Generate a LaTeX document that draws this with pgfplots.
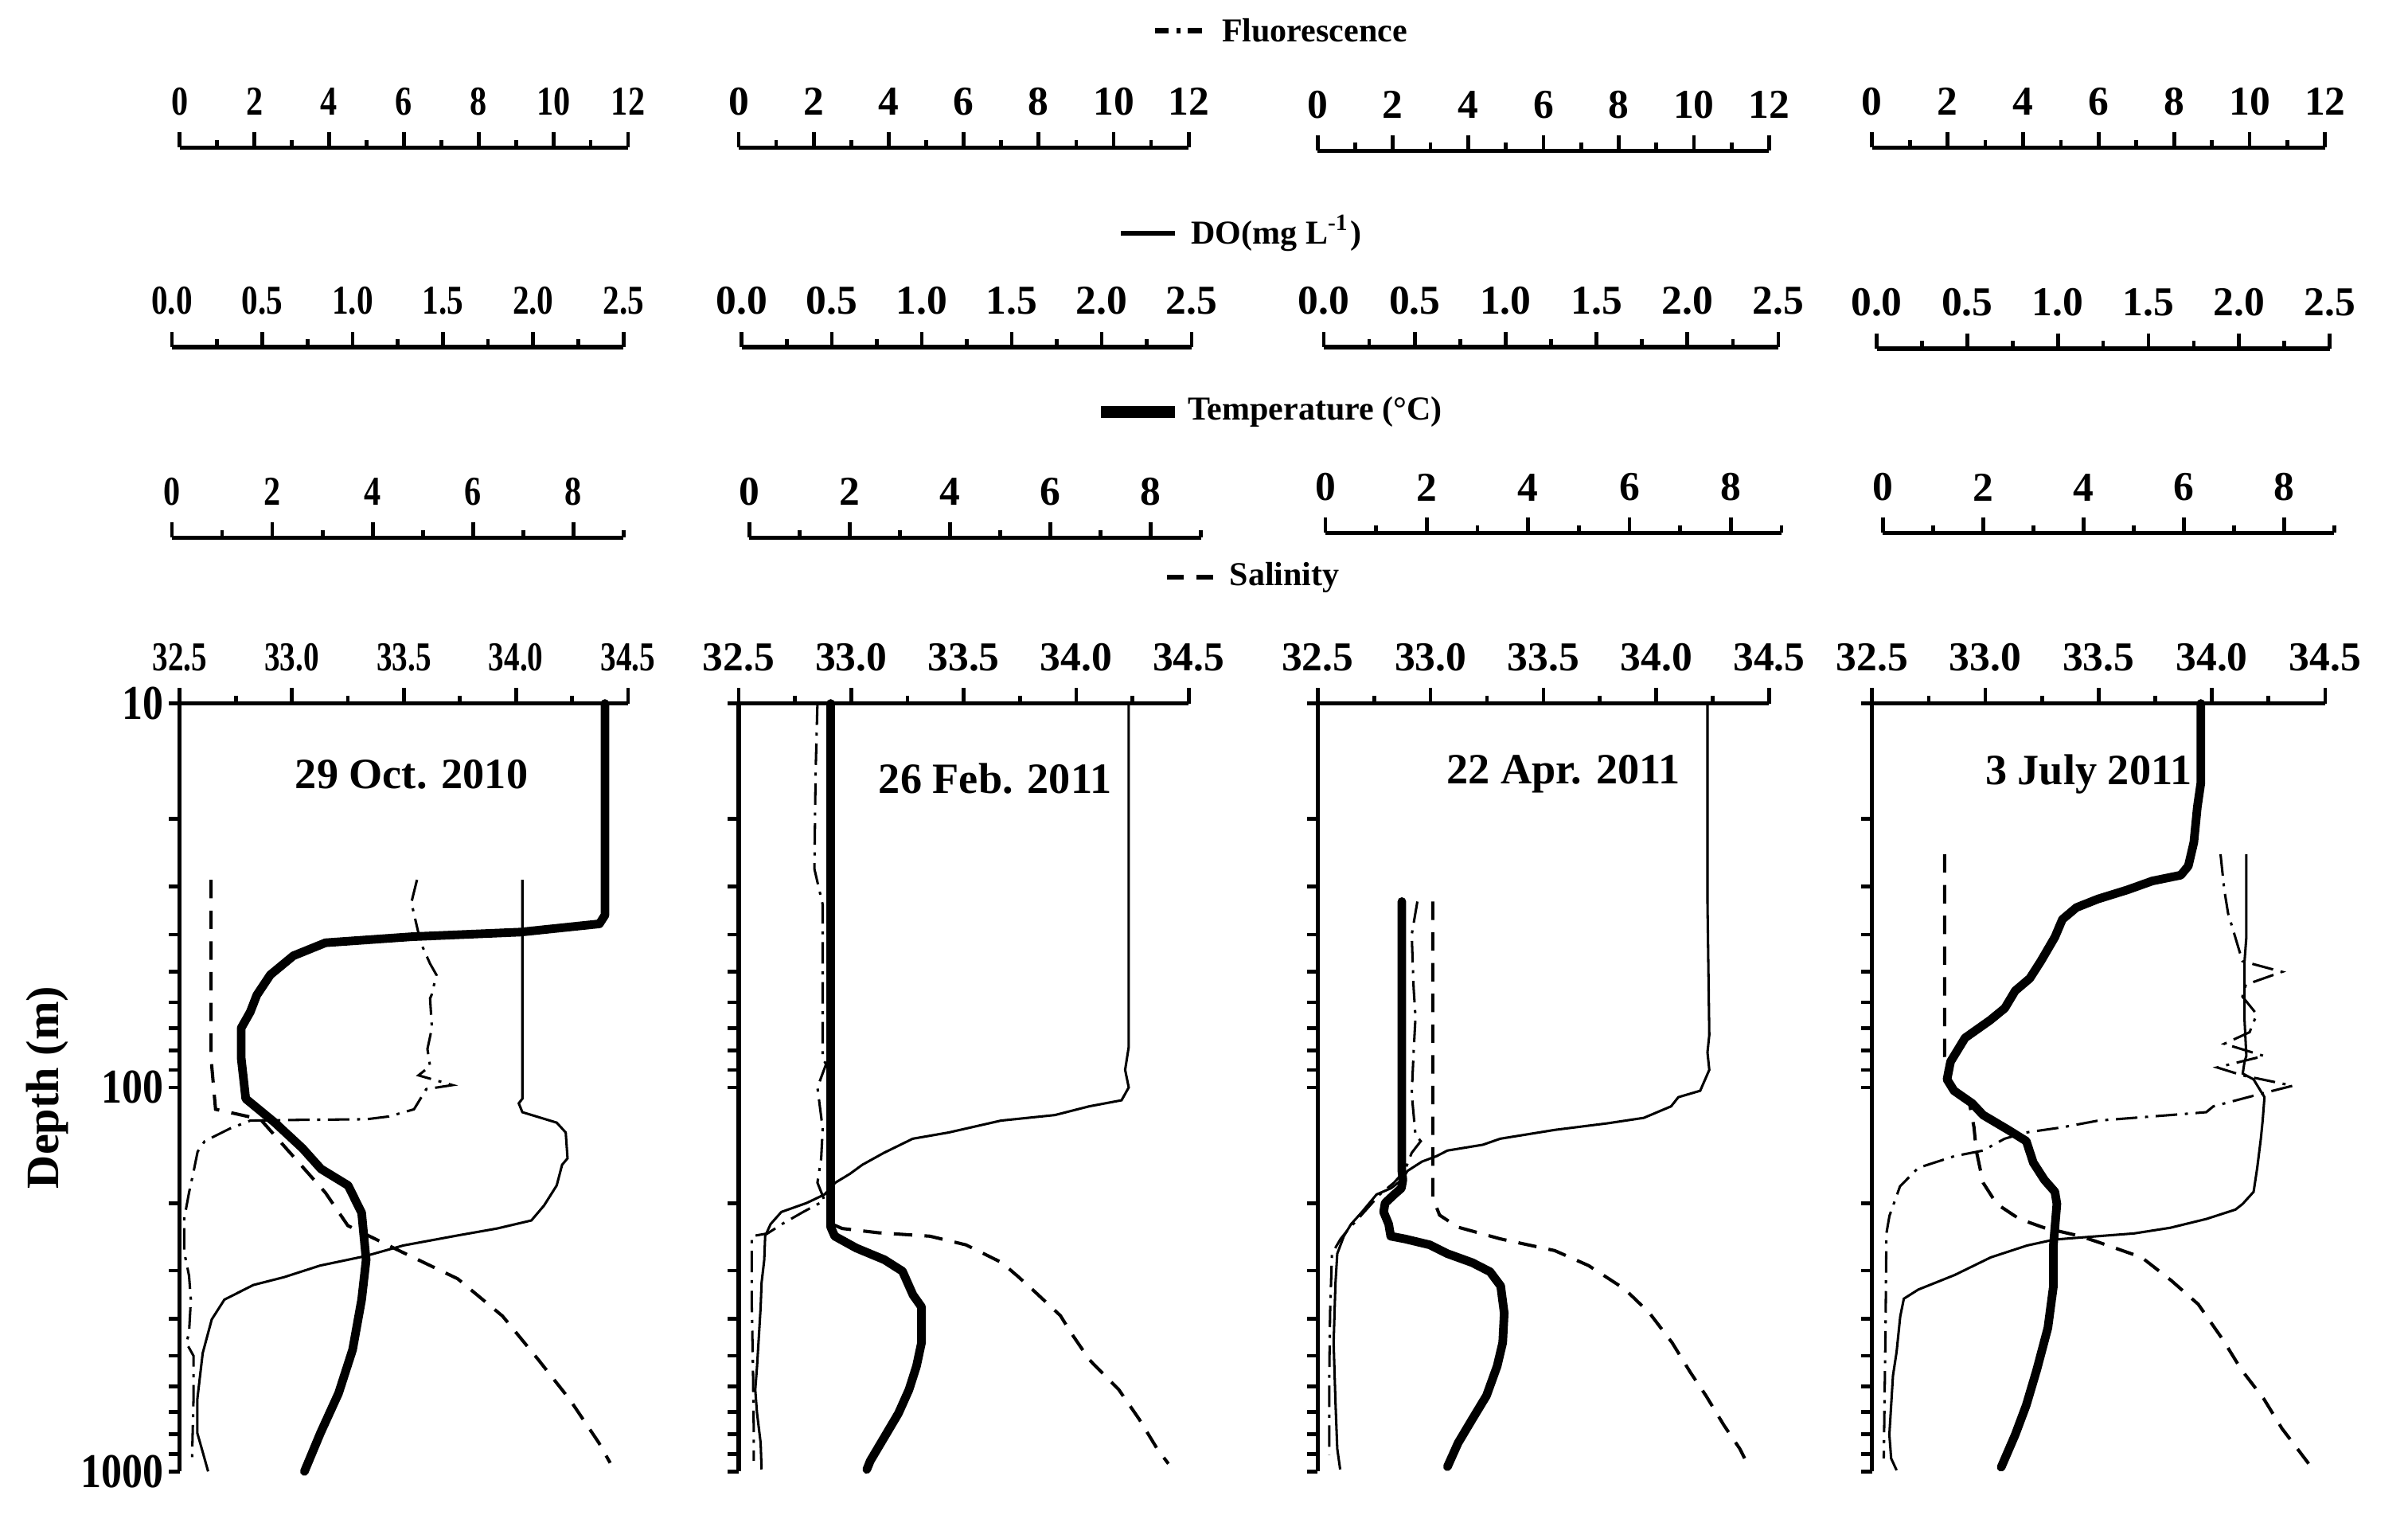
\documentclass[border=0pt]{standalone}
\usepackage{fontspec}
\setmainfont{Liberation Serif}
\usepackage{pgfplots}
\pgfplotsset{compat=1.18}
\newcommand\tf{\bfseries\fontsize{7.6}{8}\selectfont}
\newcommand\lf{\bfseries\fontsize{6.2}{7}\selectfont}
\newcommand\df{\bfseries\fontsize{8}{9}\selectfont}
\tikzset{
  fl/.style={black, line width=0.45pt, dash pattern=on 1.4mm off 0.5mm on 0.2mm off 0.5mm},
  doline/.style={black, line width=0.45pt},
  te/.style={black, line width=1.6pt, line join=round, line cap=round},
  sa/.style={black, line width=0.6pt, dash pattern=on 1.2mm off 0.8mm},
}
\pgfplotsset{
  scaleax/.style={scale only axis, height=4mm, ymin=0, ymax=1, anchor=north west,
    axis y line=none, axis x line*=top, axis line style={-, line width=0.75pt},
    tick align=outside, major tick length=1.0mm, minor tick length=0.5mm,
    tick style={black, line width=0.7pt}, xticklabel style={font=\tf, inner sep=1.5pt, yshift=0.5mm}},
  flax/.style={xmin=0, xmax=12, xtick={0,2,4,6,8,10,12}, minor xtick={1,3,5,7,9,11}, xticklabels={0,2,4,6,8,10,12}},
  doax/.style={xmin=0, xmax=2.5, xtick={0,0.5,1,1.5,2,2.5}, minor xtick={0.25,0.75,1.25,1.75,2.25}, xticklabels={0.0,0.5,1.0,1.5,2.0,2.5}},
  teax/.style={xmin=0, xmax=9, xtick={0,2,4,6,8}, minor xtick={1,3,5,7,9}, xticklabels={0,2,4,6,8}},
  saax/.style={xmin=32.5, xmax=34.5, xtick={32.5,33,33.5,34,34.5}, minor xtick={32.75,33.25,33.75,34.25}, xticklabels={32.5,33.0,33.5,34.0,34.5}},
}
% scale axis: #1 left (mm), #2 y of line (mm), #3 width (mm), #4 options
\newcommand{\scaleaxis}[4]{\begin{axis}[scaleax, at={(#1mm,#2mm)}, width=#3mm, #4]\end{axis}}
% depth axis with salinity: #1 left, #2 width, #3 extra options, #4 coordinates
\newcommand{\depthaxis}[4]{\begin{axis}[scale only axis, height=50mm, anchor=west, ymode=log, y dir=reverse,
    ymin=10, ymax=1000, xmin=32.5, xmax=34.5, hide x axis, axis y line*=left,
    axis line style={-, line width=0.75pt}, tick align=outside,
    major tick length=0.7mm, minor tick length=0.7mm, tick style={black, line width=0.7pt},
    ytick={10,100,1000}, minor ytick={20,30,40,50,60,70,80,90,200,300,400,500,600,700,800,900},
    clip=false, at={(#1mm,-70.8mm)}, width=#2mm, #3]
  \addplot[sa, mark=none] coordinates {#4};
  \end{axis}}
% data axis: #1 left, #2 width, #3 xmin, #4 xmax, #5 style, #6 coordinates
\newcommand{\dataaxis}[6]{\begin{axis}[scale only axis, height=50mm, anchor=west, ymode=log, y dir=reverse,
    ymin=10, ymax=1000, hide axis, clip=false, at={(#1mm,-70.8mm)}, width=#2mm, xmin=#3, xmax=#4]
  \addplot[#5, mark=none] coordinates {#6};
  \end{axis}}
\begin{document}
\begin{tikzpicture}
%================ PANEL 1 ================
\scaleaxis{11.7}{-9.6}{29.2}{flax, xticklabel style={xscale=0.82}}
\scaleaxis{11.2}{-22.6}{29.4}{doax, xticklabel style={xscale=0.8}}
\scaleaxis{11.2}{-35.0}{29.4}{teax, xticklabel style={xscale=0.82}}
\scaleaxis{11.7}{-45.8}{29.2}{saax, xticklabel style={xscale=0.76}}
\depthaxis{11.7}{29.2}{yticklabels={10,100,1000}, yticklabel style={font=\bfseries\fontsize{9}{10}\selectfont, xscale=0.85, inner sep=1pt}}
{(32.64,28.8) (32.64,84) (32.66,114) (32.86,121) (33.15,188) (33.25,229) (33.49,268) (33.74,315) (33.94,394) (34.10,512) (34.24,650) (34.37,843) (34.42,950)}
\dataaxis{11.2}{29.4}{0}{9}{te}{(8.63,10) (8.63,26) (8.63,35.6) (8.52,37.5) (6.95,39.4) (4.78,40.5) (3.06,42) (2.42,45.4) (1.96,50.9) (1.69,57.5) (1.56,63.6) (1.38,70) (1.38,84) (1.47,107) (2.05,123.5) (2.6,144) (2.97,163) (3.51,180) (3.78,212) (3.87,281) (3.78,357) (3.6,482) (3.32,626) (2.96,794) (2.64,1000)}
\dataaxis{11.2}{29.4}{0}{2.5}{doline}{(1.94,28.8) (1.94,107) (1.92,110) (1.94,116) (2.13,123.5) (2.18,131) (2.19,153) (2.16,159) (2.13,180) (2.06,203) (1.99,222) (1.80,233) (1.58,243) (1.28,258) (1.07,275) (0.82,291) (0.62,312) (0.45,327) (0.29,357) (0.22,402) (0.17,492) (0.14,650) (0.14,794) (0.17,890) (0.20,1000)}
\dataaxis{11.7}{29.2}{0}{12}{fl}{(6.35,28.8) (6.2,33) (6.45,42) (6.7,47.6) (6.87,50.9) (6.74,57.5) (6.7,58.6) (6.75,70) (6.63,79.4) (6.7,88) (6.39,93) (7.3,98.6) (6.6,101) (6.27,114) (5.6,119) (5.0,121) (3.16,121.5) (1.89,122) (1.34,128) (0.67,138) (0.48,147) (0.37,166) (0.25,188) (0.12,220) (0.12,268) (0.25,309) (0.3,357) (0.25,436) (0.18,463) (0.37,500) (0.37,650) (0.33,930)}
%================ PANEL 2 ================
\scaleaxis{48.1}{-9.6}{29.3}{flax}
\scaleaxis{48.3}{-22.6}{29.3}{doax}
\scaleaxis{48.8}{-35.0}{29.4}{teax}
\scaleaxis{48.1}{-45.8}{29.3}{saax}
\depthaxis{48.1}{29.3}{yticklabels={,,}}
{(32.915,10) (32.915,227) (32.96,233) (33.12,239) (33.35,244) (33.51,257) (33.67,286) (33.745,312) (33.82,342) (33.93,393) (33.98,438) (34.06,513) (34.19,613) (34.28,731) (34.36,873) (34.41,955)}
\dataaxis{48.8}{29.4}{0}{9}{te}{(1.62,10) (1.62,231) (1.70,244) (2.13,262) (2.69,281) (3.05,301) (3.26,347) (3.43,373) (3.43,462) (3.33,532) (3.18,613) (2.97,706) (2.69,814) (2.41,938) (2.34,988)}
\dataaxis{48.3}{29.3}{0}{2.5}{doline}{(2.15,10) (2.15,78.4) (2.13,90) (2.15,100) (2.11,108) (1.93,112) (1.74,118) (1.44,122) (1.15,131) (0.95,136) (0.79,148) (0.67,159) (0.60,168) (0.52,177) (0.46,190) (0.36,200) (0.22,211) (0.16,227) (0.13,244) (0.125,281) (0.11,323) (0.105,373) (0.085,532) (0.075,613) (0.085,706) (0.105,843) (0.11,988)}
\dataaxis{48.1}{29.3}{0}{12}{fl}{(2.10,10) (2.05,15.3) (2.02,27) (2.24,33.4) (2.24,63) (2.24,84) (2.33,87) (2.10,100) (2.24,128) (2.20,153) (2.10,177) (2.29,197) (2.0,204) (1.72,211) (1.15,227) (0.77,240) (0.35,244) (0.35,373) (0.38,532) (0.40,759) (0.40,938)}
%================ PANEL 3 ================
\scaleaxis{85.8}{-9.8}{29.4}{flax}
\scaleaxis{86.2}{-22.6}{29.6}{doax}
\scaleaxis{86.3}{-34.7}{29.7}{teax}
\scaleaxis{85.8}{-45.8}{29.4}{saax}
\depthaxis{85.8}{29.4}{yticklabels={,,}}
{(33.01,32.8) (33.01,194) (33.04,215) (33.12,231) (33.31,248) (33.55,266) (33.70,291) (33.86,335) (33.97,387) (34.07,462) (34.15,551) (34.22,635) (34.30,759) (34.37,873) (34.41,972)}
\dataaxis{86.3}{29.7}{0}{9}{te}{(1.51,32.8) (1.51,165) (1.53,174) (1.50,183) (1.36,190) (1.18,200) (1.15,211) (1.25,227) (1.29,244) (1.57,248) (2.06,257) (2.41,271) (2.90,286) (3.25,302) (3.46,329) (3.53,387) (3.50,462) (3.39,532) (3.18,635) (2.90,731) (2.62,843) (2.41,972)}
\dataaxis{86.2}{29.6}{0}{2.5}{doline}{(2.11,10) (2.11,32.8) (2.12,73) (2.11,81) (2.12,90) (2.07,102) (1.95,106) (1.91,112) (1.76,120) (1.56,124) (1.27,129) (0.97,136) (0.875,141) (0.68,146) (0.62,151) (0.54,156) (0.46,165) (0.43,174) (0.37,183) (0.29,190) (0.21,211) (0.15,227) (0.11,244) (0.074,271) (0.064,324) (0.054,462) (0.064,658) (0.074,873) (0.09,988)}
\dataaxis{85.8}{29.4}{0}{12}{fl}{(2.65,32.8) (2.50,40) (2.55,55) (2.60,65.6) (2.55,81) (2.50,104) (2.60,133) (2.74,138) (2.50,148) (2.31,165) (2.03,177) (1.65,190) (1.37,204) (1.09,219) (0.80,235) (0.61,248) (0.38,271) (0.33,387) (0.31,551) (0.31,905)}
%================ PANEL 4 ================
\scaleaxis{121.9}{-9.6}{29.5}{flax}
\scaleaxis{122.2}{-22.7}{29.5}{doax}
\scaleaxis{122.6}{-34.7}{29.4}{teax}
\scaleaxis{121.9}{-45.8}{29.5}{saax}
\depthaxis{121.9}{29.5}{yticklabels={,,}}
{(32.82,24.7) (32.82,82.8) (32.83,92) (32.86,100) (32.93,110) (32.95,127) (32.96,146) (32.99,177) (33.05,201) (33.15,220) (33.26,232) (33.42,244) (33.50,253) (33.69,277) (33.82,318) (33.94,367) (34.05,455) (34.13,543) (34.23,648) (34.31,774) (34.37,861) (34.43,959)}
\dataaxis{122.6}{29.4}{0}{9}{te}{(6.34,10) (6.34,16.1) (6.27,18.6) (6.20,23) (6.09,26.5) (5.94,28) (5.37,29) (4.87,30.6) (4.29,32.3) (3.86,34) (3.58,36.5) (3.43,40.6) (3.15,46.9) (2.93,52) (2.64,56) (2.43,62.2) (2.14,66.8) (1.64,74.3) (1.35,85.7) (1.28,95.3) (1.42,102) (1.78,110) (2.0,118) (2.50,129) (2.86,138) (3.0,157) (3.22,174) (3.43,187) (3.47,201) (3.40,258) (3.40,330) (3.29,423) (3.07,543) (2.86,672) (2.64,802) (2.36,975)}
\dataaxis{122.2}{29.5}{0}{2.5}{doline}{(2.04,24.7) (2.04,40.6) (2.03,46.9) (2.03,66.8) (2.04,82.8) (2.03,85.7) (2.02,92) (2.08,95.3) (2.14,106) (2.13,122) (2.12,136) (2.10,162) (2.08,187) (2.02,201) (1.98,208) (1.82,220) (1.62,232) (1.42,240) (1.22,244) (0.98,249) (0.83,258) (0.63,277) (0.43,308) (0.23,336) (0.15,355) (0.13,395) (0.11,488) (0.09,563) (0.08,672) (0.07,802) (0.08,925) (0.11,993)}
\dataaxis{121.9}{29.5}{0}{12}{fl}{(9.23,24.7) (9.33,30.6) (9.43,35.2) (9.62,40.6) (9.81,46.9) (10.86,50) (9.90,54) (9.81,58) (10.19,64.5) (10.0,71.8) (9.33,77) (10.38,82.8) (9.14,88.7) (9.81,93) (11.14,99) (10.28,104) (9.04,112) (8.85,116) (7.90,118) (5.99,122) (5.04,127) (4.08,131) (3.51,136) (2.94,146) (2.18,151) (1.22,162) (0.74,181) (0.46,216) (0.38,240) (0.36,395) (0.34,563) (0.31,925)}
%================ TEXT ================
\node[font=\df] at (26.8mm,-50.4mm) {29 Oct. 2010};
\node[font=\df] at (64.8mm,-50.7mm) {26 Feb. 2011};
\node[font=\df] at (101.8mm,-50.4mm) {22 Apr. 2011};
\node[font=\df] at (136.0mm,-50.4mm) {3 July 2011};
\node[rotate=90, font=\bfseries\fontsize{8.6}{10}\selectfont] at (3.1mm,-70.8mm) {Depth (m)};
% legend
\draw[black, line width=1pt, dash pattern=on 0.9mm off 0.5mm on 0.25mm off 0.5mm] (75.2mm,-2.0mm) -- (78.4mm,-2.0mm);
\node[anchor=west, inner sep=0pt, font=\lf] at (79.5mm,-2.0mm) {Fluorescence};
\draw[black, line width=0.9pt] (73.0mm,-15.2mm) -- (76.5mm,-15.2mm);
\node[anchor=west, inner sep=0pt, font=\lf] at (77.5mm,-15.2mm) {DO(mg L\textsuperscript{-1})};
\draw[black, line width=2.2pt] (71.7mm,-26.8mm) -- (76.5mm,-26.8mm);
\node[anchor=west, inner sep=0pt, font=\lf] at (77.3mm,-26.8mm) {Temperature (°C)};
\draw[black, line width=0.9pt, dash pattern=on 1.1mm off 0.8mm] (76.0mm,-37.6mm) -- (79.0mm,-37.6mm);
\node[anchor=west, inner sep=0pt, font=\lf] at (80.0mm,-37.6mm) {Salinity};
\pgfresetboundingbox
\path[use as bounding box] (0,0) rectangle (156.8mm,-98.6mm);
\end{tikzpicture}
\end{document}
